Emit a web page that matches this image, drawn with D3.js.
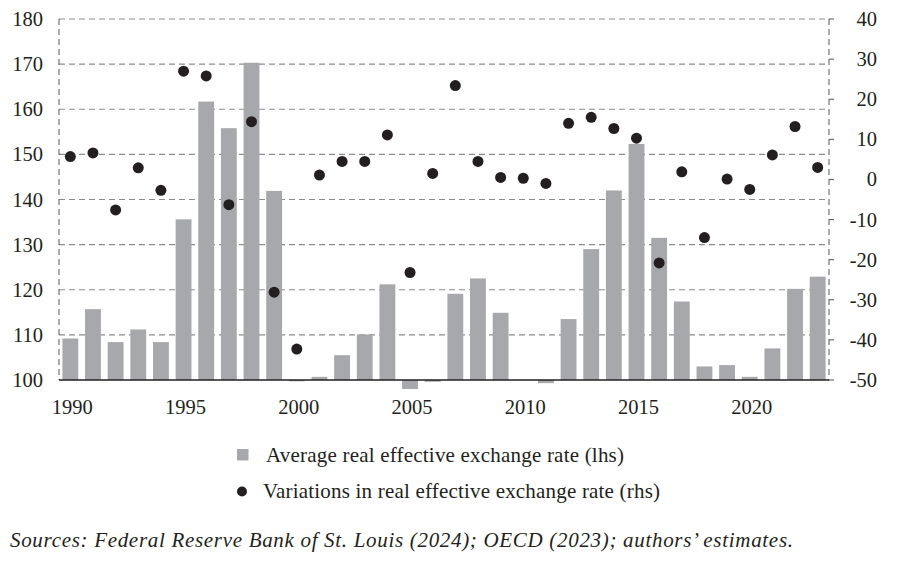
<!DOCTYPE html>
<html>
<head>
<meta charset="utf-8">
<title>Real effective exchange rate</title>
<script src="https://cdn.jsdelivr.net/npm/d3@7"></script>
<style>
body { margin: 0; background: #fff; }
svg text { font-family: "Liberation Serif", "Times New Roman", serif; fill: #231f20; }
</style>
</head>
<body>
<svg id="chart" width="900" height="561"></svg>
<script>
// years on the x axis
var years = d3.range(1990, 2024);

// average real effective exchange rate (lhs)
var avgRate = [109.2, 115.7, 108.4, 111.2, 108.4, 135.6, 161.7, 155.8, 170.3, 141.9,
               99.7, 100.7, 105.5, 110.1, 121.2, 98.0, 99.6, 119.1, 122.5, 114.9,
               100.0, 99.3, 113.5, 129.0, 142.0, 152.3, 131.5, 117.4, 103.0, 103.3,
               100.7, 107.0, 120.2, 122.9];

// variations in real effective exchange rate (rhs)
var variation = [5.7, 6.6, -7.6, 2.9, -2.7, 27.0, 25.8, -6.3, 14.4, -28.1,
                 -42.3, 1.1, 4.5, 4.5, 11.1, -23.2, 1.5, 23.4, 4.5, 0.5,
                 0.3, -1.0, 14.0, 15.5, 12.7, 10.3, -20.8, 1.9, -14.5, 0.1,
                 -2.5, 6.1, 13.2, 3.0];

var leftTicks = [100, 110, 120, 130, 140, 150, 160, 170, 180];
var rightTicks = [-50, -40, -30, -20, -10, 0, 10, 20, 30, 40];
var yearLabels = [1990, 1995, 2000, 2005, 2010, 2015, 2020];

var legendLabels = ["Average real effective exchange rate (lhs)",
                    "Variations in real effective exchange rate (rhs)"];
var sourceNote = "Sources: Federal Reserve Bank of St. Louis (2024); OECD (2023); authors\u2019 estimates.";

var m = {left: 59, right: 829, top: 19, bottom: 380};

var svg = d3.select("#chart");

var x = d3.scaleBand().domain(years).range([m.left, m.right]).paddingInner(0.3).paddingOuter(0.15);
var yL = d3.scaleLinear().domain([100, 180]).range([m.bottom, m.top]);
var yR = d3.scaleLinear().domain([-50, 40]).range([m.bottom, m.top]);

// horizontal dashed grid from the left axis values
svg.append("g")
  .selectAll("line")
  .data(leftTicks.slice(1))
  .join("line")
    .attr("x1", m.left).attr("x2", m.right)
    .attr("y1", d => yL(d)).attr("y2", d => yL(d))
    .attr("stroke", "#8c8c8c")
    .attr("stroke-width", 1.2)
    .attr("stroke-dasharray", "6,4");

// left and right frame lines, dashed
svg.append("g")
  .selectAll("line")
  .data([m.left, m.right])
  .join("line")
    .attr("x1", d => d).attr("x2", d => d)
    .attr("y1", m.top).attr("y2", m.bottom)
    .attr("stroke", "#555")
    .attr("stroke-width", 1)
    .attr("stroke-dasharray", "6,4");

// bars grow from the 100 line, up or down
svg.append("g")
  .selectAll("rect")
  .data(years)
  .join("rect")
    .attr("x", d => x(d))
    .attr("width", x.bandwidth())
    .attr("y", (d, i) => Math.min(yL(avgRate[i]), yL(100)))
    .attr("height", (d, i) => Math.abs(yL(avgRate[i]) - yL(100)))
    .attr("fill", "#a7a8ab");

// base line
svg.append("line")
  .attr("x1", m.left).attr("x2", m.right)
  .attr("y1", yL(100)).attr("y2", yL(100))
  .attr("stroke", "#231f20")
  .attr("stroke-width", 1.5);

// dots
svg.append("g")
  .selectAll("circle")
  .data(years)
  .join("circle")
    .attr("cx", d => x(d) + x.bandwidth() / 2)
    .attr("cy", (d, i) => yR(variation[i]))
    .attr("r", 5.5)
    .attr("fill", "#231f20");

// left axis labels
svg.append("g")
  .selectAll("text")
  .data(leftTicks)
  .join("text")
    .attr("x", 43)
    .attr("y", d => yL(d) + 7)
    .attr("text-anchor", "end")
    .attr("font-size", 20.5)
    .text(d => d);

// right axis: short ticks and labels
var rAxis = svg.append("g").attr("transform", "translate(" + m.right + ",0)");
rAxis.selectAll("line")
  .data(rightTicks)
  .join("line")
    .attr("x1", 0).attr("x2", 5)
    .attr("y1", d => yR(d)).attr("y2", d => yR(d))
    .attr("stroke", "#555");
rAxis.selectAll("text")
  .data(rightTicks)
  .join("text")
    .attr("x", 48)
    .attr("y", d => yR(d) + 7)
    .attr("text-anchor", "end")
    .attr("font-size", 20.5)
    .text(d => d);

// year labels
svg.append("g")
  .selectAll("text")
  .data(yearLabels)
  .join("text")
    .attr("x", d => x(d) + x.bandwidth() / 2 + 2)
    .attr("y", 414)
    .attr("text-anchor", "middle")
    .attr("font-size", 20.5)
    .text(d => d);

// legend
var lg = svg.append("g");
lg.append("rect")
  .attr("x", 237).attr("y", 449)
  .attr("width", 11.5).attr("height", 11.5)
  .attr("fill", "#a7a8ab");
lg.append("circle")
  .attr("cx", 242).attr("cy", 491.5)
  .attr("r", 5)
  .attr("fill", "#231f20");
lg.selectAll("text")
  .data(legendLabels)
  .join("text")
    .attr("x", (d, i) => i === 0 ? 266 : 263)
    .attr("y", (d, i) => i === 0 ? 462 : 498)
    .attr("font-size", 21)
    .attr("textLength", (d, i) => i === 0 ? 358 : 397)
    .attr("lengthAdjust", "spacing")
    .text(d => d);

// source note
svg.append("text")
  .attr("x", 10)
  .attr("y", 547)
  .attr("font-size", 21)
  .attr("font-style", "italic")
  .attr("textLength", 783)
  .attr("lengthAdjust", "spacing")
  .text(sourceNote);
</script>
</body>
</html>
